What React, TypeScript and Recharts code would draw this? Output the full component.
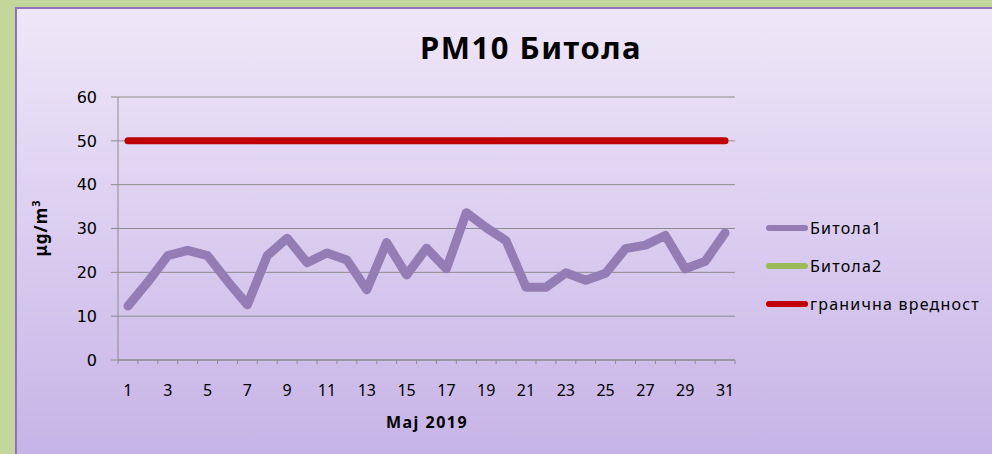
import React from "react";
import { CartesianGrid, Line, LineChart, XAxis, YAxis } from "recharts";

const days = [
  1, 2, 3, 4, 5, 6, 7, 8, 9, 10, 11, 12, 13, 14, 15, 16, 17, 18, 19, 20, 21, 22, 23, 24, 25, 26, 27,
  28, 29, 30, 31,
];
const bitola1 = [
  12.3, 17.8, 23.8, 25.0, 23.8, 18.0, 12.6, 23.8, 27.8, 22.2, 24.4, 22.8, 16.0, 26.8, 19.4, 25.5,
  20.8, 33.6, 30.2, 27.2, 16.6, 16.6, 19.9, 18.2, 19.8, 25.4, 26.2, 28.4, 20.8, 22.5, 29.0,
];
const limitValue = 50;
const yTicks = [0, 10, 20, 30, 40, 50, 60];
const labelDays = [1, 3, 5, 7, 9, 11, 13, 15, 17, 19, 21, 23, 25, 27, 29, 31];

const series = [
  { key: "bitola1", name: "Битола1", color: "#937DB4" },
  { key: "bitola2", name: "Битола2", color: "#9BBB59" },
  { key: "limit", name: "гранична вредност", color: "#C00000" },
];

const data = days.map((day, i) => ({ day, bitola1: bitola1[i], limit: limitValue }));

// tick marks sit on the borders between days, labels on odd days
const borders = [...days.map((d) => d - 0.5), days[days.length - 1] + 0.5];
const xTicks = [...borders, ...labelDays];

const FONT = "'Noto Sans', sans-serif";

function XTick(props: any) {
  const { x, y, payload } = props;
  if (!Number.isInteger(payload.value)) {
    return <line x1={x} x2={x} y1={y - 5} y2={y - 1} stroke="#8c8c8c" strokeWidth={1} />;
  }
  return (
    <text x={x} y={y + 31} textAnchor="middle" fontSize={16} fontFamily={FONT} fill="#000">
      {payload.value}
    </text>
  );
}

export default function App() {
  return (
    <div
      style={{
        position: "absolute",
        left: 0,
        top: 0,
        width: 992,
        height: 454,
        overflow: "hidden",
        background: "#C3D69B",
      }}
    >
      <div
        style={{
          position: "absolute",
          left: 15,
          top: 7,
          width: 990,
          height: 460,
          borderLeft: "2px solid #8E74BF",
          borderTop: "2px solid #8E74BF",
          background: "linear-gradient(#EFE7F8, #C5B2E6)",
        }}
      />
      <div
        style={{
          position: "absolute",
          left: 331,
          width: 400,
          top: 26,
          textAlign: "center",
          fontFamily: FONT,
          fontWeight: 700,
          fontSize: 31,
          letterSpacing: 1.5,
          color: "#000",
        }}
      >
        PM10 Битола
      </div>
      <div
        style={{
          position: "absolute",
          left: 40,
          top: 228,
          transform: "translate(-50%, -50%) rotate(-90deg)",
          fontFamily: FONT,
          fontWeight: 700,
          fontSize: 17,
          letterSpacing: 1,
          whiteSpace: "nowrap",
        }}
      >
        μg/m<sup style={{ fontSize: 11 }}>3</sup>
      </div>
      <div
        style={{
          position: "absolute",
          left: 327,
          width: 200,
          top: 411,
          textAlign: "center",
          fontFamily: FONT,
          fontWeight: 700,
          fontSize: 16,
          letterSpacing: 1.5,
        }}
      >
        Maj 2019
      </div>
      <div style={{ position: "absolute", left: 0, top: 0 }}>
        <LineChart width={992} height={454} data={data} margin={{ top: 97, right: 257, bottom: 64, left: 78 }}>
          <CartesianGrid vertical={false} stroke="#8c8c8c" strokeWidth={1} />
          <XAxis
            dataKey="day"
            type="number"
            domain={[0.5, 31.5]}
            ticks={xTicks}
            interval={0}
            tick={<XTick />}
            tickLine={false}
            tickSize={5}
            tickMargin={0}
            height={30}
            axisLine={{ stroke: "#8c8c8c" }}
          />
          <YAxis
            domain={[0, 60]}
            ticks={yTicks}
            interval={0}
            width={40}
            tickSize={7}
            tickMargin={14}
            axisLine={{ stroke: "#8c8c8c" }}
            tickLine={{ stroke: "#8c8c8c" }}
            tick={{ fill: "#000", fontSize: 16, fontFamily: "'DejaVu Sans', sans-serif" }}
          />
          <Line
            dataKey="limit"
            stroke="#C00000"
            strokeWidth={7}
            strokeLinecap="round"
            dot={false}
            isAnimationActive={false}
          />
          <Line
            dataKey="bitola2"
            stroke="#9BBB59"
            strokeWidth={7}
            dot={false}
            isAnimationActive={false}
          />
          <Line
            dataKey="bitola1"
            stroke="#937DB4"
            strokeWidth={9}
            strokeLinejoin="round"
            strokeLinecap="round"
            dot={false}
            isAnimationActive={false}
          />
        </LineChart>
      </div>
      <div style={{ position: "absolute", left: 766, top: 209, fontFamily: FONT, fontSize: 16 }}>
        {series.map((s) => (
          <div key={s.key} style={{ display: "flex", alignItems: "center", height: 38 }}>
            <span
              style={{
                display: "inline-block",
                width: 42,
                height: 6,
                borderRadius: 3,
                background: s.color,
                marginRight: 2,
              }}
            />
            <span style={{ letterSpacing: 1.2, whiteSpace: "nowrap" }}>{s.name}</span>
          </div>
        ))}
      </div>
    </div>
  );
}
